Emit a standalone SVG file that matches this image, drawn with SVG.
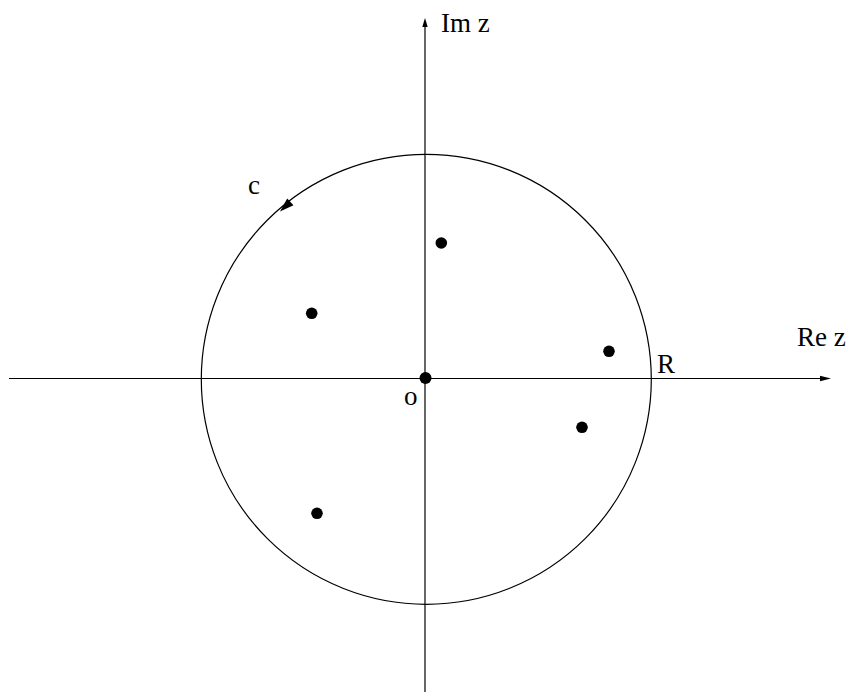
<svg xmlns="http://www.w3.org/2000/svg" width="848" height="693" viewBox="0 0 848 693">
<style>
.ln{stroke:#000;stroke-width:1.2;fill:none}
.pt{fill:#000}
.lb{font-family:"Liberation Serif","Times New Roman",serif;font-size:27px;fill:#000}
</style>
<rect width="848" height="693" fill="#fff"/>
<g id="connectors">
<line class="ln" x1="9" y1="378.5" x2="822" y2="378.5"/>
<polygon class="pt" points="831,378.5 820,375.8 820,381.2"/>
<line class="ln" x1="425" y1="692" x2="425" y2="27"/>
<polygon class="pt" points="425,18 422.3,27 427.7,27"/>
</g>
<g id="contour">
<circle class="ln" cx="426.3" cy="379.3" r="225"/>
<polygon class="pt" points="280,211.5 293.5,205.3 287.2,198.5"/>
<text class="lb" x="248" y="194">c</text>
</g>
<g id="labels">
<text class="lb" x="441" y="32">Im z</text>
<text class="lb" x="797" y="346">Re z</text>
<text class="lb" x="657" y="373">R</text>
<text class="lb" x="404" y="405">o</text>
</g>
<g id="points">
<circle id="p0" class="pt" cx="425.5" cy="378" r="6"/>
<circle id="p1" class="pt" cx="441.3" cy="243" r="5.8"/>
<circle id="p2" class="pt" cx="311.7" cy="313.3" r="5.8"/>
<circle id="p3" class="pt" cx="609" cy="351.3" r="5.8"/>
<circle id="p4" class="pt" cx="582" cy="427.3" r="5.8"/>
<circle id="p5" class="pt" cx="317" cy="513.3" r="5.8"/>
</g>
</svg>
